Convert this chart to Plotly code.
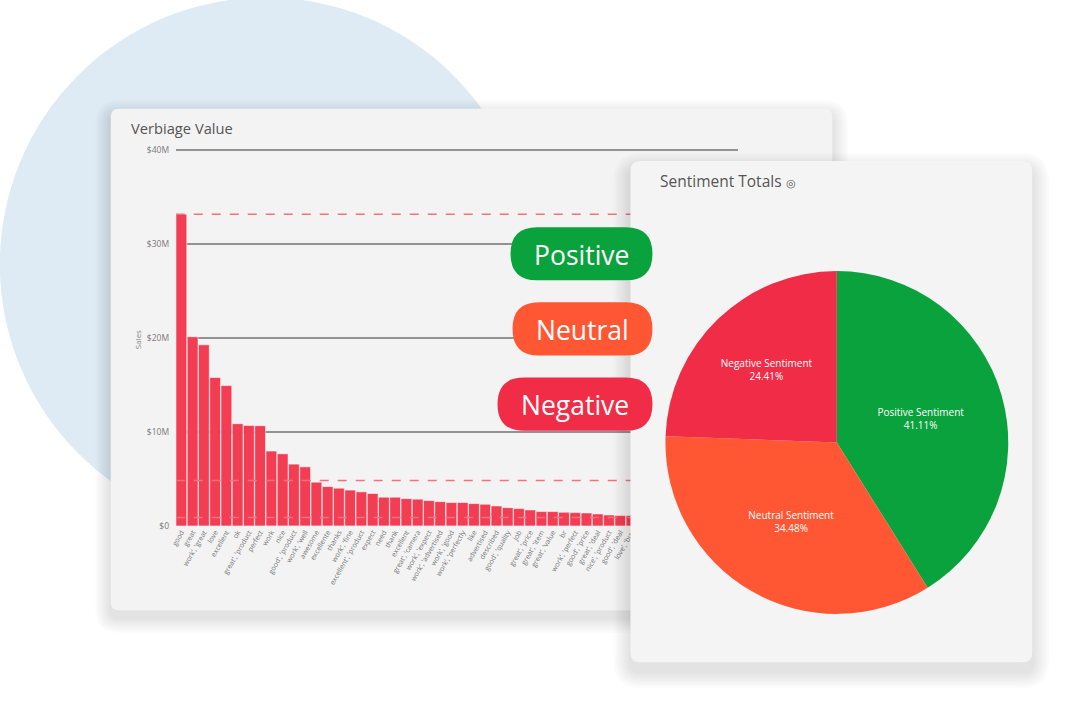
import plotly.graph_objects as go

W, H = 1070, 708

# ---------------- data ----------------
words = [
    "good", "great", "work', 'great", "love", "excellent", "ok", "great', 'product",
    "perfect", "work", "nice", "good', 'product", "work', 'well", "awesome",
    "excellente", "thanks", "work', 'fine", "excellent', 'product", "expect", "need",
    "thank", "excellent", "great', 'camera", "work', 'expect", "work', 'advertised",
    "work', 'good", "work', 'perfectly", "like", "advertised", "described",
    "good', 'quality", "job", "great', 'price", "great', 'item", "great', 'value",
    "br", "work', 'perfect", "good', 'price", "great', 'deal", "nice', 'product",
    "good', 'deal", "love', 'buy",
]
sales_m = [
    33.17, 20.13, 19.27, 15.79, 14.93, 10.88, 10.70, 10.67, 7.97, 7.68,
    6.58, 6.29, 4.66, 4.19, 4.02, 3.82, 3.63, 3.45, 3.06, 3.06,
    2.91, 2.85, 2.70, 2.59, 2.49, 2.49, 2.38, 2.31, 2.13, 1.95,
    1.85, 1.71, 1.53, 1.53, 1.46, 1.42, 1.39, 1.28, 1.17, 1.10, 1.10,
]
sales = [v * 1e6 for v in sales_m]
n_slots = 50  # the axis holds 50 words; the last ones sit behind the pie card

max_line = 33.17e6
mean_line = 4.83e6
min_line = 0.89e6

y_ticks = [0, 10e6, 20e6, 30e6, 40e6]
y_tick_text = ["$0", "$10M", "$20M", "$30M", "$40M"]
y_max = 40.2e6

sentiments = ["Positive Sentiment", "Neutral Sentiment", "Negative Sentiment"]
shares = [41.11, 34.48, 24.41]
sent_colors = ["#0aa23c", "#ff5733", "#f02c47"]
pill_labels = ["Positive", "Neutral", "Negative"]

# ---------------- helpers ----------------
# screen-pixel positions (as seen in the target) -> figure pixel positions
def T(px, py):
    return (px - 5.15) / 0.995, (py - 5.46) / 0.9846

def TX(px):
    return T(px, 0)[0]

def TY(py):
    return T(0, py)[1]

def paper(px, py):
    sx, sy = T(px, py)
    return sx / W, 1 - sy / H

def pix(px, py):
    return T(px, py)

def rr(x0, y0, x1, y1, r, conv):
    pts = [
        ("M", [(x0 + r, y0)]), ("L", [(x1 - r, y0)]), ("Q", [(x1, y0), (x1, y0 + r)]),
        ("L", [(x1, y1 - r)]), ("Q", [(x1, y1), (x1 - r, y1)]), ("L", [(x0 + r, y1)]),
        ("Q", [(x0, y1), (x0, y1 - r)]), ("L", [(x0, y0 + r)]), ("Q", [(x0, y0), (x0 + r, y0)]),
    ]
    s = ""
    for cmd, ps in pts:
        s += cmd + " " + " ".join("%.5f,%.5f" % conv(a, b) for a, b in ps) + " "
    return s + "Z"

shapes = []

# background circle
cx, cy, cr = 265, 265, 266
x0, y0 = paper(cx - cr, cy + cr)
x1, y1 = paper(cx + cr, cy - cr)
shapes.append(dict(type="circle", xref="paper", yref="paper", x0=x0, y0=y0, x1=x1, y1=y1,
                   fillcolor="#deebf4", line=dict(width=0), layer="below"))

# bar card shadow + card
for i in range(1, 8):
    e = i * 2.2
    shapes.append(dict(type="path", xref="paper", yref="paper", layer="below",
                       path=rr(110 - e, 110 - e + 7, 832 + e, 610 + e + 7, 8 + e, paper),
                       fillcolor="rgba(0,0,0,0.014)", line=dict(width=0)))
shapes.append(dict(type="path", xref="paper", yref="paper", layer="below",
                   path=rr(110, 110, 832, 610, 8, paper),
                   fillcolor="#f3f3f3", line=dict(width=0)))

# pie card (in overlay subplot x2/y2 so it covers the bars but stays under the pie)
for i in range(1, 8):
    e = i * 2.4
    shapes.append(dict(type="path", xref="x2", yref="y2", layer="below",
                       path=rr(630 - e, 162 - e + 9, 1032 + e, 662 + e + 9, 10 + e, pix),
                       fillcolor="rgba(0,0,0,0.016)", line=dict(width=0)))
shapes.append(dict(type="path", xref="x2", yref="y2", layer="below",
                   path=rr(630, 162, 1032, 662, 10, pix),
                   fillcolor="#f4f4f4", line=dict(width=0)))

# pills
pill_boxes = [(510, 228, 652, 281), (512, 303, 652, 356), (497, 378, 652, 431)]
annotations = []
for (a, b, c, d), col, lab in zip(pill_boxes, sent_colors, pill_labels):
    shapes.append(dict(type="path", xref="paper", yref="paper", layer="above",
                       path=rr(a, b, c, d, (d - b) / 2, paper),
                       fillcolor=col, line=dict(width=0)))
    px_, py_ = paper((a + c) / 2, (b + d) / 2 + 1)
    annotations.append(dict(text=lab, x=px_, y=py_, xref="paper", yref="paper",
                            showarrow=False, xanchor="center", yanchor="middle",
                            font=dict(size=26.5, color="white", family="Open Sans")))

# titles
tx, ty = paper(128, 129)
annotations.append(dict(text="Verbiage Value", x=tx, y=ty, xref="paper", yref="paper",
                        showarrow=False, xanchor="left", yanchor="middle",
                        font=dict(size=14.7, color="#555555", family="Open Sans")))
tx, ty = paper(658, 182)
annotations.append(dict(text="Sentiment Totals <span style='font-size:11px'>◎</span>",
                        x=tx, y=ty, xref="paper", yref="paper",
                        showarrow=False, xanchor="left", yanchor="middle",
                        font=dict(size=15.5, color="#555555", family="Open Sans")))
tx, ty = paper(137, 340)
annotations.append(dict(text="Sales", x=tx, y=ty, xref="paper", yref="paper",
                        showarrow=False, textangle=-90, xanchor="center", yanchor="middle",
                        font=dict(size=8, color="#888888", family="Open Sans")))

# ---------------- figure ----------------
fig = go.Figure()

fig.add_trace(go.Bar(
    x=list(range(len(words))), y=sales, xaxis="x", yaxis="y",
    marker=dict(color="#f33d52", line=dict(color="rgba(255,255,255,0.55)", width=1)),
    hoverinfo="skip", showlegend=False,
))

for v in (max_line, mean_line, min_line):
    fig.add_trace(go.Scatter(
        x=[-0.5, n_slots - 0.5], y=[v, v], mode="lines", xaxis="x", yaxis="y",
        line=dict(color="#f5707f", width=1.5, dash="dash"),
        hoverinfo="skip", showlegend=False,
    ))

# dummy trace to create overlay subplot
fig.add_trace(go.Scatter(x=[None], y=[None], xaxis="x2", yaxis="y2",
                         mode="markers", showlegend=False, hoverinfo="skip"))

pd0 = paper(665, 614.5)
pd1 = paper(1008, 271)
fig.add_trace(go.Pie(
    labels=sentiments, values=shares, sort=False, direction="clockwise", rotation=0,
    marker=dict(colors=sent_colors, line=dict(width=0)),
    texttemplate="%{label}<br>%{percent:.2%}", textposition="inside",
    insidetextorientation="horizontal",
    textfont=dict(size=10, color="white", family="Open Sans"),
    domain=dict(x=[pd0[0], pd1[0]], y=[pd0[1], pd1[1]]),
    hoverinfo="skip", showlegend=False,
))

px_per_unit = (526 - 151) / 40e6
y_top_px = 526 - y_max * px_per_unit

fig.update_layout(
    width=W, height=H, autosize=False,
    margin=dict(l=0, r=0, t=0, b=0),
    paper_bgcolor="white", plot_bgcolor="rgba(0,0,0,0)",
    font=dict(family="Open Sans"),
    bargap=0.04,
    showlegend=False,
    shapes=shapes, annotations=annotations,
    xaxis=dict(domain=[TX(175) / W, TX(738) / W], range=[-0.5, n_slots - 0.5], anchor="y",
               tickvals=list(range(len(words))), ticktext=words, tickangle=-60,
               tickfont=dict(size=7, color="#777777"), showgrid=False, zeroline=False,
               showline=False, ticks="", fixedrange=True),
    yaxis=dict(domain=[1 - TY(526) / H, 1 - TY(y_top_px) / H], range=[0, y_max], anchor="x",
               tickvals=y_ticks, ticktext=y_tick_text,
               tickfont=dict(size=8.5, color="#7a7a7a"), showgrid=True,
               gridcolor="#929292", gridwidth=1.5, zeroline=False, showline=False,
               ticks="outside", ticklen=4, tickcolor="rgba(0,0,0,0)", fixedrange=True),
    xaxis2=dict(domain=[0, 1], range=[0, W], anchor="y2", visible=False, fixedrange=True),
    yaxis2=dict(domain=[0, 1], range=[H, 0], anchor="x2", visible=False, fixedrange=True),
)

fig.write_html("out.html")
